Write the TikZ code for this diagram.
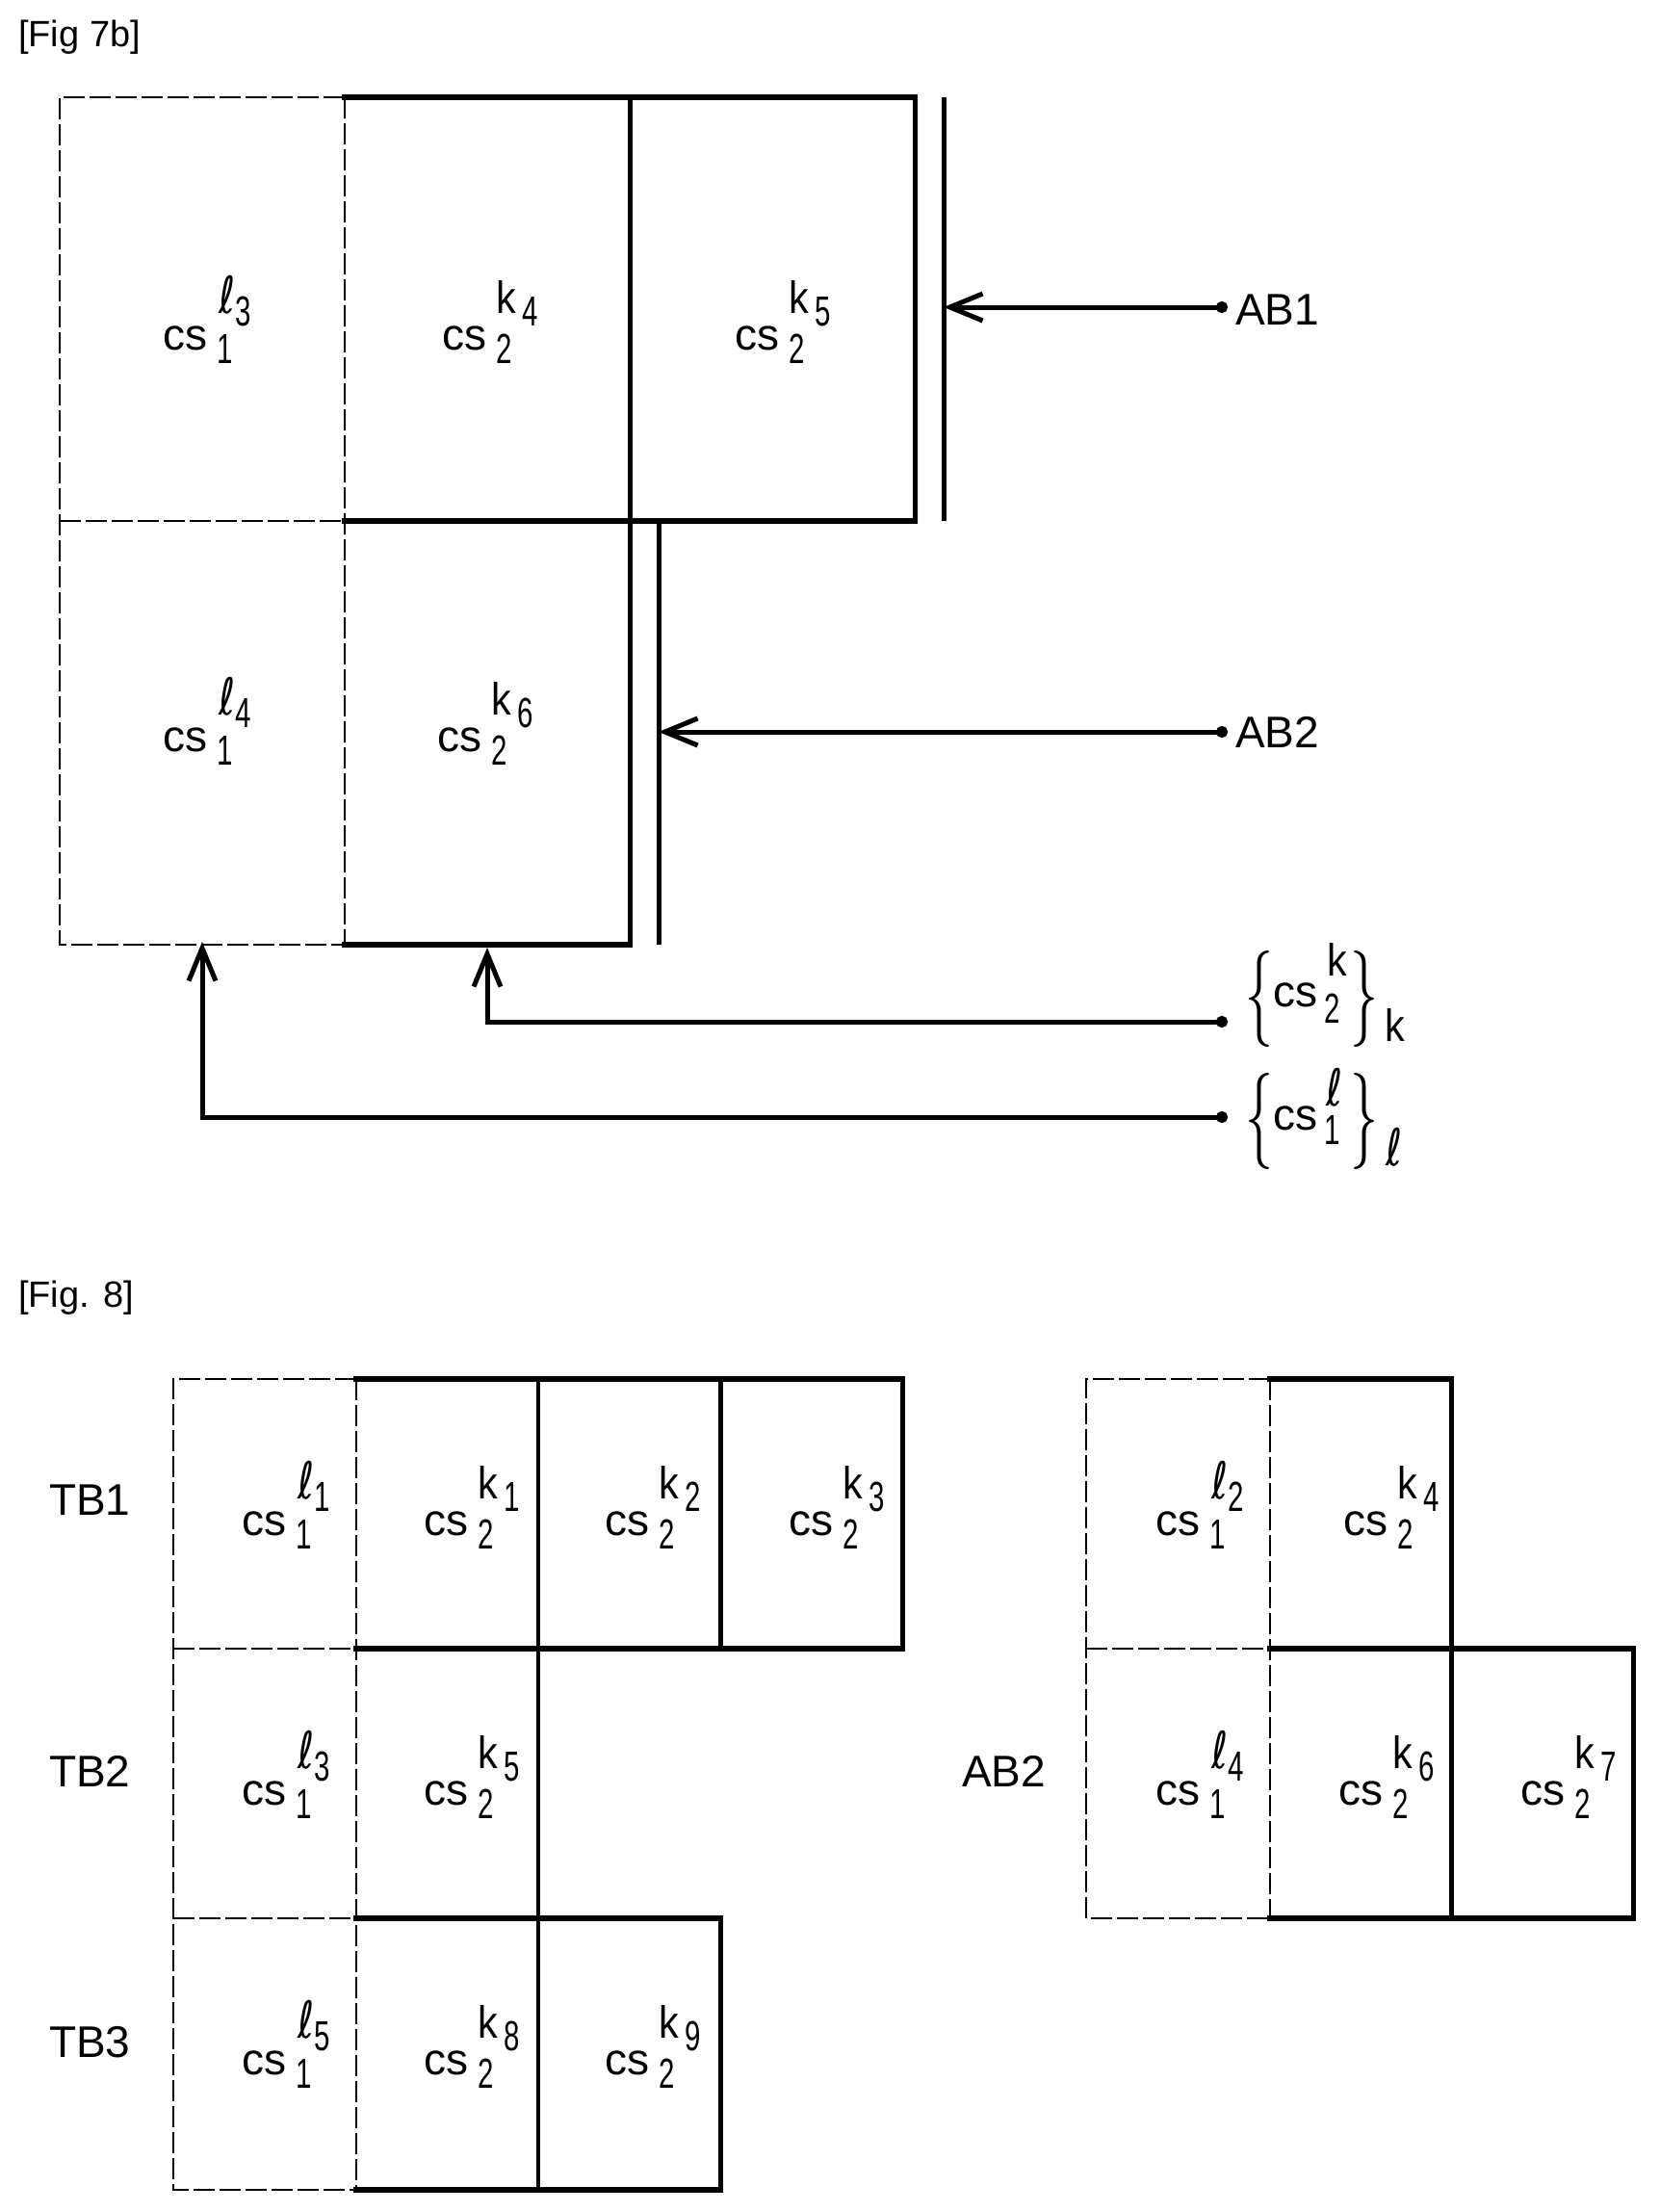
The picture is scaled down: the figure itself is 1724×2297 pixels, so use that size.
\documentclass[tikz,border=0pt]{standalone}
\usepackage{graphicx}
\usepackage{fontspec}
\setmainfont{Liberation Sans}
\newfontfamily\ellfont{DejaVu Sans}
\usetikzlibrary{arrows.meta}

\newcommand{\slimdigit}[1]{\scalebox{.64}[.95]{#1}}
\newcommand{\slimk}{\scalebox{.9}[1.02]{k}}
\newcommand{\slimell}{\scalebox{.9}[1.15]{\ellfont ℓ}}
% cs with its lower index, upper letter and the index of that letter
\newcommand{\cskay}[2]{cs\hspace{10pt}\rlap{\raisebox{-14pt}{\slimdigit{#1}}}\rlap{\raisebox{38pt}{\slimk}}\hspace{27pt}\raisebox{25pt}{\slimdigit{#2}}}
\newcommand{\csell}[2]{cs\hspace{10pt}\rlap{\raisebox{-14pt}{\slimdigit{#1}}}\hspace{2pt}\rlap{\raisebox{38pt}{\slimell}}\hspace{17pt}\raisebox{25pt}{\slimdigit{#2}}}
\newcommand{\bigbrace}[1]{\scalebox{.58}[1]{\sffamily\fontsize{100}{100}\selectfont #1}}

\tikzset{
    thickline/.style={line width=6pt, line cap=rect},
    midline/.style={line width=5pt},
    thinline/.style={line width=4pt},
    dashline/.style={line width=2.5pt, dash pattern=on 22pt off 5pt},
    txt/.style={inner sep=0, anchor=base west, font=\fontsize{46}{46}\selectfont},
    figtxt/.style={inner sep=0, anchor=base west, font=\fontsize{38}{38}\selectfont},
    arw/.style={line width=5pt, {Circle[length=12pt]}-{Straight Barb[length=34pt,width=28pt,line width=5pt]}}
}

\begin{document}
\begin{tikzpicture}[x=1pt,y=-1pt]
    \useasboundingbox (0,0) rectangle (1724,2297);

    % titles
    \node[figtxt] (title7) at (19,48) {[Fig 7b]};
    \node[figtxt] (title8) at (19,1357) {[Fig. 8]};

    % fig 7b, dashed cells
    \draw[dashline] (358,101) -- (62,101) -- (62,981) -- (358,981);
    \draw[dashline] (62,541) -- (358,541);
    \draw[dashline] (358,101) -- (358,981);

    % fig 7b, solid cells
    \draw[thickline] (358,101) -- (950,101);
    \draw[thickline] (358,541) -- (950,541);
    \draw[thickline] (358,981) -- (654,981);
    \draw[midline] (654,101) -- (654,981);
    \draw[midline] (950,101) -- (950,541);

    % bars
    \draw[midline] (980,101) -- (980,541);
    \draw[midline] (684,541) -- (684,981);

    % fig 7b, texts
    \node[txt] (l3) at (169,363) {\csell{1}{3}};
    \node[txt] (k4) at (459,363) {\cskay{2}{4}};
    \node[txt] (k5) at (763,363) {\cskay{2}{5}};
    \node[txt] (l4) at (169,780) {\csell{1}{4}};
    \node[txt] (k6) at (454,780) {\cskay{2}{6}};

    \node[txt] (ab1) at (1283,337) {AB1};
    \node[txt] (ab2) at (1283,776) {AB2};

    % braces
    \node[txt] (setk) at (1322,1045) {cs\hspace{7pt}\rlap{\raisebox{-17pt}{\slimdigit{2}}}\hspace{3pt}\raisebox{32pt}{\slimk}};
    \node[txt, anchor=center] (setkl) at (1308,1037) {\bigbrace{\{}};
    \node[txt, anchor=center] (setkr) at (1417,1037) {\bigbrace{\}}};
    \node[txt] (setksub) at (1438,1081) {\slimk};

    \node[txt] (setl) at (1322,1173) {cs\hspace{7pt}\rlap{\raisebox{-15pt}{\slimdigit{1}}}\hspace{2pt}\raisebox{25pt}{\slimell}};
    \node[txt, anchor=center] (setll) at (1308,1164) {\bigbrace{\{}};
    \node[txt, anchor=center] (setlr) at (1417,1164) {\bigbrace{\}}};
    \node[txt] (setlsub) at (1439,1210) {\slimell};

    % arrows
    \coordinate (ab1dot) at (1275,319);
    \coordinate (ab1bar) at (980,319);
    \coordinate (ab2dot) at (1275,760);
    \coordinate (ab2bar) at (684,760);
    \coordinate (setkdot) at (1275,1061);
    \coordinate (setkbend) at (506,1061);
    \coordinate (setktip) at (506,984);
    \coordinate (setldot) at (1275,1160);
    \coordinate (setlbend) at (210,1160);
    \coordinate (setltip) at (210,978);
    \draw[arw] (ab1dot) -- (ab1bar);
    \draw[arw] (ab2dot) -- (ab2bar);
    \draw[arw] (setkdot) -- (setkbend) -- (setktip);
    \draw[arw] (setldot) -- (setlbend) -- (setltip);

    % fig 8, left, dashed cells
    \draw[dashline] (370,1432) -- (180,1432) -- (180,2274) -- (370,2274);
    \draw[dashline] (180,1712) -- (370,1712);
    \draw[dashline] (180,1992) -- (370,1992);
    \draw[dashline] (370,1432) -- (370,2274);

    % fig 8, left, solid cells
    \draw[thickline] (370,1432) -- (937,1432);
    \draw[thickline] (370,1712) -- (937,1712);
    \draw[thickline] (370,1992) -- (748,1992);
    \draw[thickline] (370,2274) -- (748,2274);
    \draw[thinline] (559,1432) -- (559,2274);
    \draw[midline] (748,1432) -- (748,1712);
    \draw[midline] (937,1432) -- (937,1712);
    \draw[midline] (748,1992) -- (748,2274);

    % fig 8, left, texts
    \node[txt] (tb1) at (51,1573) {TB1};
    \node[txt] (tb2) at (51,1855) {TB2};
    \node[txt] (tb3) at (51,2136) {TB3};
    \node[txt] (tl1) at (251,1594) {\csell{1}{1}};
    \node[txt] (tk1) at (440,1594) {\cskay{2}{1}};
    \node[txt] (tk2) at (628,1594) {\cskay{2}{2}};
    \node[txt] (tk3) at (819,1594) {\cskay{2}{3}};
    \node[txt] (tl3) at (251,1874) {\csell{1}{3}};
    \node[txt] (tk5) at (440,1874) {\cskay{2}{5}};
    \node[txt] (tl5) at (251,2154) {\csell{1}{5}};
    \node[txt] (tk8) at (440,2154) {\cskay{2}{8}};
    \node[txt] (tk9) at (628,2154) {\cskay{2}{9}};

    % fig 8, right, dashed cells
    \draw[dashline] (1319,1432) -- (1128,1432) -- (1128,1992) -- (1319,1992);
    \draw[dashline] (1128,1712) -- (1319,1712);
    \draw[dashline] (1319,1432) -- (1319,1992);

    % fig 8, right, solid cells
    \draw[thickline] (1319,1432) -- (1507,1432);
    \draw[thickline] (1319,1712) -- (1696,1712);
    \draw[thickline] (1319,1992) -- (1696,1992);
    \draw[midline] (1507,1432) -- (1507,1992);
    \draw[midline] (1696,1712) -- (1696,1992);

    % fig 8, right, texts
    \node[txt] (ab2b) at (999,1855) {AB2};
    \node[txt] (rl2) at (1200,1594) {\csell{1}{2}};
    \node[txt] (rk4) at (1395,1594) {\cskay{2}{4}};
    \node[txt] (rl4) at (1200,1874) {\csell{1}{4}};
    \node[txt] (rk6) at (1390,1874) {\cskay{2}{6}};
    \node[txt] (rk7) at (1579,1874) {\cskay{2}{7}};

\end{tikzpicture}
\end{document}
